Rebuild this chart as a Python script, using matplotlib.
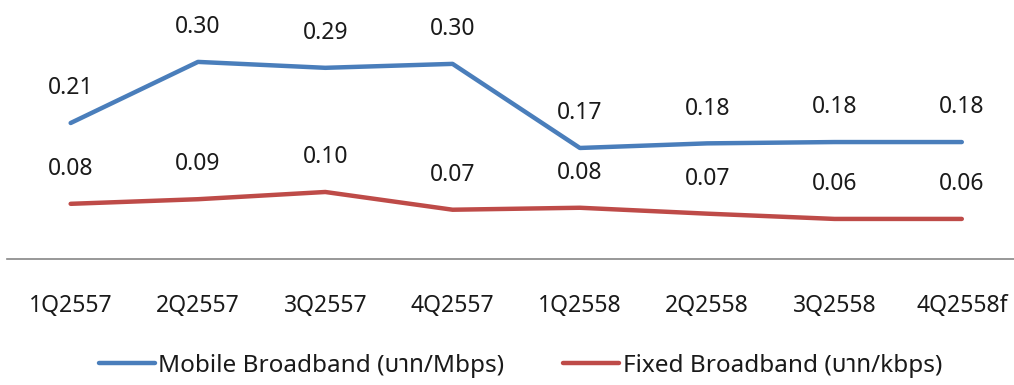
import matplotlib.pyplot as plt

# ข้อมูล
quarters = ['1Q2557', '2Q2557', '3Q2557', '4Q2557', '1Q2558', '2Q2558', '3Q2558', '4Q2558f']
mobile = [0.207, 0.300, 0.291, 0.297, 0.169, 0.176, 0.178, 0.178]
fixed = [0.084, 0.091, 0.102, 0.075, 0.078, 0.069, 0.061, 0.061]
mobile_name = 'Mobile Broadband (บาท/Mbps)'
fixed_name = 'Fixed Broadband (บาท/kbps)'

plt.rcParams['font.family'] = ['Noto Sans', 'Noto Sans Thai', 'DejaVu Sans']

fig = plt.figure(figsize=(10.14, 3.85), dpi=100)
ax = fig.add_axes([7 / 1014, 1 - 259 / 385, 1 - 7 / 1014, 249 / 385])

x = list(range(len(quarters)))
ax.plot(x, mobile, color='#4A7EBB', lw=3.2, label=mobile_name, solid_capstyle='round')
ax.plot(x, fixed, color='#BE4B48', lw=3.2, label=fixed_name, solid_capstyle='round')

# ป้ายค่าเหนือจุด
for xi, v in zip(x, mobile):
    ax.annotate(f'{v:.2f}', (xi, v), xytext=(0, 25), textcoords='offset points',
                ha='center', va='center', fontsize=16.5, color='#1a1a1a', annotation_clip=False)
for xi, v in zip(x, fixed):
    ax.annotate(f'{v:.2f}', (xi, v), xytext=(0, 25), textcoords='offset points',
                ha='center', va='center', fontsize=16.5, color='#1a1a1a', annotation_clip=False)

ax.set_xlim(-0.5, 7.41)
ax.set_ylim(0, 0.379)
ax.set_xticks(x)
ax.set_xticklabels(quarters, fontsize=16.5, color='#1a1a1a')
ax.tick_params(axis='x', length=0, pad=25)
ax.set_yticks([])
for side in ['top', 'right', 'left']:
    ax.spines[side].set_visible(False)
ax.spines['bottom'].set_color('#868686')
ax.spines['bottom'].set_linewidth(1.2)

fig.legend(loc='center', bbox_to_anchor=(0.513, 1 - 366 / 385), ncol=2, frameon=False,
           fontsize=17.5, handlelength=2.3, handletextpad=0.16, columnspacing=2.4,
           labelcolor='#1a1a1a')

fig.savefig('out.png', dpi=100)
